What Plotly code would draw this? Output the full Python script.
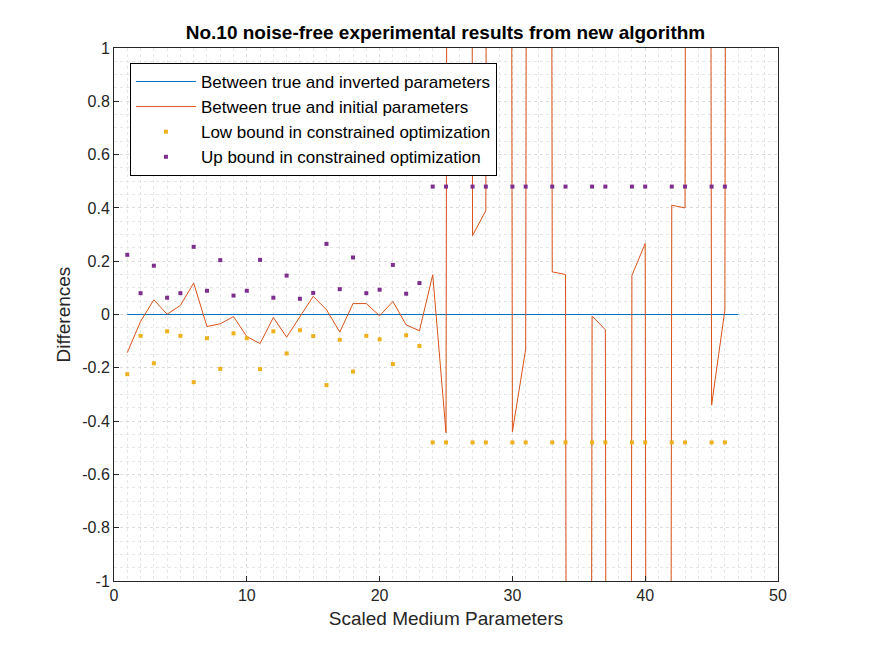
import plotly.graph_objects as go

x = list(range(1, 48))
initial_diff = [-0.143, -0.026, 0.055, 0.001, 0.034, 0.118, -0.045, -0.035, -0.008, -0.083,
                -0.109, -0.011, -0.085, -0.008, 0.068, 0.018, -0.066, 0.041, 0.041, -0.005,
                0.049, -0.039, -0.061, 0.149, -0.444, 30.0, 0.296, 0.39, 30.0, -0.44,
                -0.13, 30.0, 0.16, 0.15, -30.0, -0.006, -0.057, -30.0, 0.147, 0.266,
                -30.0, 0.41, 0.40, 30.0, -0.34, 0.017, 30.0]
inverted_diff = [0.0] * 47
bound_x = list(range(1, 24)) + [24, 25, 27, 28, 30, 31, 33, 34, 36, 37, 39, 40, 42, 43, 45, 46]
up_bound = [0.224, 0.08, 0.183, 0.063, 0.08, 0.254, 0.089, 0.204, 0.071, 0.089, 0.205, 0.063,
            0.146, 0.059, 0.081, 0.265, 0.095, 0.214, 0.08, 0.093, 0.186, 0.078, 0.118] + [0.48] * 16
low_bound = [-v for v in up_bound]
y_ticks = [-1, -0.8, -0.6, -0.4, -0.2, 0, 0.2, 0.4, 0.6, 0.8, 1]
y_tick_labels = ["-1", "-0.8", "-0.6", "-0.4", "-0.2", "0", "0.2", "0.4", "0.6", "0.8", "1"]

fig = go.Figure()
fig.add_trace(go.Scatter(x=x, y=inverted_diff, mode="lines", line=dict(color="#0072BD", width=1),
                         name="Between true and inverted parameters"))
fig.add_trace(go.Scatter(x=x, y=initial_diff, mode="lines", line=dict(color="#D95319", width=1),
                         name="Between true and initial parameters"))
fig.add_trace(go.Scatter(x=bound_x, y=low_bound, mode="markers",
                         marker=dict(color="#EDB120", size=4, symbol="square"),
                         name="Low bound in constrained optimization"))
fig.add_trace(go.Scatter(x=bound_x, y=up_bound, mode="markers",
                         marker=dict(color="#7E2F8E", size=4, symbol="square"),
                         name="Up bound in constrained optimization"))

axcommon = dict(showline=True, linecolor="#262626", mirror=True, ticks="inside", ticklen=5,
                tickcolor="#262626", gridcolor="#dcdcdc", griddash="dot", zeroline=False,
                automargin=False, tickfont=dict(size=16, color="#262626"))
fig.update_xaxes(range=[0, 50], dtick=10, title=dict(text="Scaled Medium Parameters", font=dict(size=19, color="#262626"), standoff=8),
                 minor=dict(dtick=1, showgrid=True, gridcolor="#e6e6e6", griddash="dot"), **axcommon)
fig.update_yaxes(range=[-1, 1], tickvals=y_ticks, ticktext=y_tick_labels,
                 title=dict(text="Differences", font=dict(size=19, color="#262626"), standoff=6),
                 minor=dict(dtick=0.05, showgrid=True, gridcolor="#e6e6e6", griddash="dot"), **axcommon)
fig.update_layout(
    width=875, height=656, paper_bgcolor="white", plot_bgcolor="white",
    font=dict(family="Liberation Sans, Arial, sans-serif", color="#262626"),
    margin=dict(l=106, r=105, t=40, b=83),
    title=dict(text="<b>No.10 noise-free experimental results from new algorithm</b>", x=0.5, xanchor="center",
               y=0.963, yanchor="middle", font=dict(size=19, color="black")),
    legend=dict(x=0.024, y=0.972, xanchor="left", yanchor="top", bgcolor="white", bordercolor="black",
                borderwidth=1, font=dict(size=17, color="black"), tracegroupgap=0, itemwidth=60),
    showlegend=True,
)
fig.write_html("out.html")
